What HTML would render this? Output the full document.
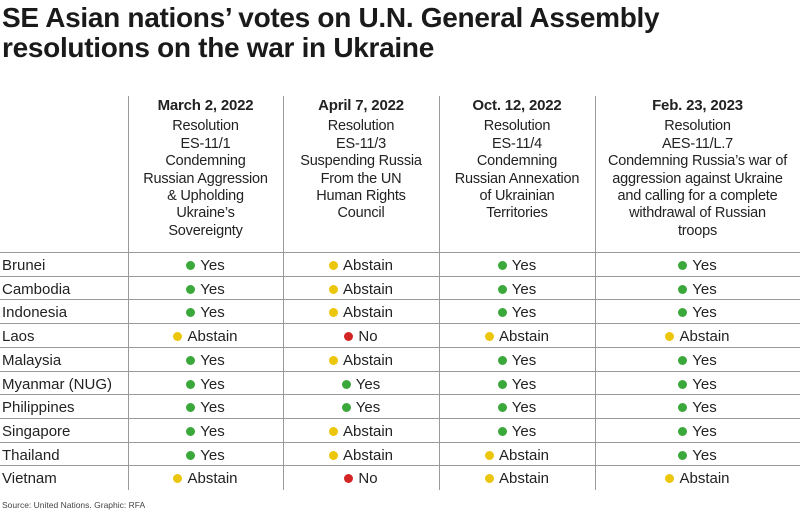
<!DOCTYPE html>
<html><head><meta charset="utf-8"><style>
body{margin:0;width:800px;height:513px;background:#fff;font-family:"Liberation Sans",sans-serif;color:#222;position:relative;overflow:hidden}
.t{position:absolute;left:2px;top:3px;font-size:28px;font-weight:bold;line-height:30px;letter-spacing:-0.3px;color:#1a1a1a}
.v{position:absolute;top:96px;width:1px;height:394px;background:#999}
.h{position:absolute;left:0;width:800px;height:1px;background:#999}
.hd{position:absolute;top:97px;text-align:center;font-size:14.5px;line-height:17.4px;letter-spacing:-0.2px}
.hd b{display:block;font-size:15px;margin-bottom:4px}
.c{position:absolute;font-size:15px;line-height:23.7px;white-space:nowrap}
.cell{position:absolute;font-size:15px;line-height:23.7px;text-align:center;white-space:nowrap}
.d{display:inline-block;width:9px;height:9px;border-radius:50%;margin-right:5px;vertical-align:0px}
.g{background:#3aa83a}.y{background:#ecc60a}.r{background:#d42525}
.src{position:absolute;left:2px;top:500px;font-size:8.5px;color:#444}
</style></head><body>
<div class="t">SE Asian nations’ votes on U.N. General Assembly<br>resolutions on the war in Ukraine</div>
<div class="v" style="left:128px"></div><div class="v" style="left:283px"></div><div class="v" style="left:439px"></div><div class="v" style="left:595px"></div>
<div class="hd" style="left:128px;width:155px"><b>March 2, 2022</b>Resolution<br>ES-11/1<br>Condemning<br>Russian Aggression<br>&amp; Upholding<br>Ukraine’s<br>Sovereignty</div>
<div class="hd" style="left:283px;width:156px"><b>April 7, 2022</b>Resolution<br>ES-11/3<br>Suspending Russia<br>From the UN<br>Human Rights<br>Council</div>
<div class="hd" style="left:439px;width:156px"><b>Oct. 12, 2022</b>Resolution<br>ES-11/4<br>Condemning<br>Russian Annexation<br>of Ukrainian<br>Territories</div>
<div class="hd" style="left:595px;width:205px"><b>Feb. 23, 2023</b>Resolution<br>AES-11/L.7<br>Condemning Russia’s war of<br>aggression against Ukraine<br>and calling for a complete<br>withdrawal of Russian<br>troops</div>
<div id="rows"></div>
<div class="src">Source: United Nations. Graphic: RFA</div>
<script>
var data=[["Brunei","Y","A","Y","Y"],["Cambodia","Y","A","Y","Y"],["Indonesia","Y","A","Y","Y"],["Laos","A","N","A","A"],["Malaysia","Y","A","Y","Y"],["Myanmar (NUG)","Y","Y","Y","Y"],["Philippines","Y","Y","Y","Y"],["Singapore","Y","A","Y","Y"],["Thailand","Y","A","A","Y"],["Vietnam","A","N","A","A"]];
var cols=[[128,155],[283,156],[439,156],[595,205]];
var m={Y:["g","Yes"],A:["y","Abstain"],N:["r","No"]};
var h="";
data.forEach(function(r,i){var top=252+i*23.7;
h+='<div class="h" style="top:'+top+'px"></div>';
h+='<div class="c" style="left:2px;top:'+(top+2)+'px">'+r[0]+'</div>';
for(var j=0;j<4;j++){var v=m[r[j+1]];h+='<div class="cell" style="left:'+cols[j][0]+'px;width:'+cols[j][1]+'px;top:'+(top+2)+'px"><span class="d '+v[0]+'"></span>'+v[1]+'</div>';}
});
document.getElementById("rows").innerHTML=h;
</script>
</body></html>
